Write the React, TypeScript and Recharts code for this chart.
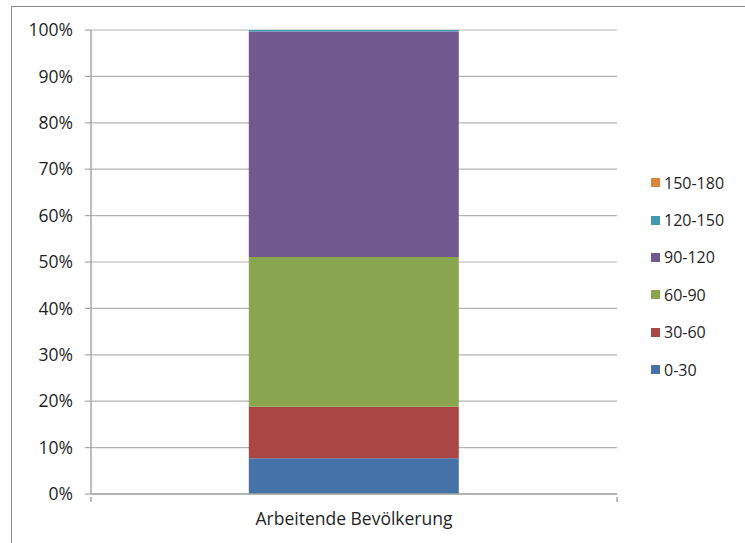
import { Bar, BarChart, CartesianGrid, XAxis, YAxis } from "recharts";

const categories = ["Arbeitende Bevölkerung"];
const seriesNames = ["0-30", "30-60", "60-90", "90-120", "120-150", "150-180"];
const seriesValues = [7.7, 11.1, 32.3, 48.6, 0.3, 0];
const seriesColors = ["#4572A7", "#AA4643", "#89A54E", "#71588F", "#4198AF", "#DB843D"];
const yTicks = [0, 10, 20, 30, 40, 50, 60, 70, 80, 90, 100];

const data = categories.map((name) => {
  const row: Record<string, string | number> = { name };
  seriesNames.forEach((s, i) => {
    row[s] = seriesValues[i];
  });
  return row;
});

const FONT = "'Open Sans', sans-serif";
const PLOT_LEFT = 91;
const PLOT_RIGHT = 617;

function CategoryTick(props: any) {
  const { x, y, payload } = props;
  const half = (PLOT_RIGHT - PLOT_LEFT) / 2;
  return (
    <g>
      <line x1={x - half} y1={y - 5} x2={x - half} y2={y} stroke="#a6a6a6" strokeWidth={1.5} />
      <line x1={x + half} y1={y - 5} x2={x + half} y2={y} stroke="#a6a6a6" strokeWidth={1.5} />
      <text x={x} y={y + 23} textAnchor="middle" fill="#1f1f1f" fontSize={17.5} fontFamily={FONT}>
        {payload.value}
      </text>
    </g>
  );
}

export default function App() {
  return (
    <div style={{ position: "absolute", left: 0, top: 0, width: 745, height: 543, overflow: "hidden", background: "#fff" }}>
      <div
        style={{
          position: "absolute",
          left: 11,
          top: 6,
          width: 760,
          height: 560,
          border: "1.5px solid #8a8a8a",
        }}
      />
      <div style={{ position: "absolute", left: 0, top: 0 }}>
        <BarChart
          width={745}
          height={543}
          data={data}
          margin={{ top: 30, right: 745 - PLOT_RIGHT, bottom: 19, left: 31 }}
          barCategoryGap="30%"
        >
          <CartesianGrid vertical={false} stroke="#b3b3b3" strokeWidth={1.2} />
          <YAxis
            domain={[0, 100]}
            ticks={yTicks}
            tickFormatter={(v) => `${v}%`}
            width={60}
            axisLine={{ stroke: "#a6a6a6", strokeWidth: 1.5 }}
            tickLine={{ stroke: "#a6a6a6", strokeWidth: 1.2 }}
            tickSize={6}
            tickMargin={12}
            tick={{ fill: "#1f1f1f", fontSize: 17.5, fontFamily: FONT }}
            interval={0}
          />
          <XAxis
            dataKey="name"
            height={30}
            axisLine={{ stroke: "#a6a6a6", strokeWidth: 1.5 }}
            tickLine={false}
            tick={<CategoryTick />}
          />
          {seriesNames.map((s, i) => (
            <Bar key={s} dataKey={s} stackId="a" fill={seriesColors[i]} isAnimationActive={false} />
          ))}
        </BarChart>
      </div>
      <div style={{ position: "absolute", left: 651, top: 164, fontFamily: FONT, fontSize: 16, color: "#1f1f1f" }}>
        {seriesNames
          .map((s, i) => ({ s, c: seriesColors[i] }))
          .reverse()
          .map(({ s, c }) => (
            <div key={s} style={{ display: "flex", alignItems: "center", height: 37.4 }}>
              <div style={{ width: 9, height: 9, background: c, marginRight: 4 }} />
              <span>{s}</span>
            </div>
          ))}
      </div>
    </div>
  );
}
